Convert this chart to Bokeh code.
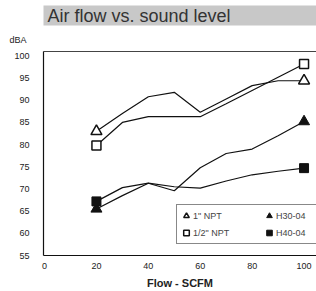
from bokeh.plotting import figure
from bokeh.models import Legend, LegendItem, Title, LinearAxis, FixedTicker, Range1d
from bokeh.embed import file_html
from bokeh.resources import INLINE

flow = [20, 30, 40, 50, 60, 70, 80, 90, 100]
npt_1 = [83.0, 87.0, 90.8, 91.8, 87.3, 90.3, 93.3, 94.4, 94.4]
npt_half = [79.8, 85.0, 86.3, 86.3, 86.3, 89.2, 92.2, 95.2, 98.2]
h30_04 = [65.5, 68.5, 71.3, 69.6, 74.8, 78.0, 79.0, 82.0, 85.2]
h40_04 = [67.2, 70.3, 71.3, 70.5, 70.2, 71.8, 73.2, 74.0, 74.7]
x_ticks = [0, 20, 40, 60, 80, 100]
y_ticks = [55, 60, 65, 70, 75, 80, 85, 90, 95, 100]

FONT = "Liberation Sans"
INK = "#111111"

p = figure(width=316, height=291, output_backend="svg", toolbar_location=None,
           x_range=Range1d(-0.4, 104.8), y_range=Range1d(55, 101),
           min_border_left=43, min_border_right=0, min_border_top=51, min_border_bottom=36)
p.outline_line_color = None
p.background_fill_color = "white"
p.border_fill_color = "white"
p.xgrid.visible = False
p.ygrid.visible = False

p.title.text = "Air flow vs. sound level"
p.title.text_font = FONT
p.title.text_font_size = "18px"
p.title.text_font_style = "normal"
p.title.text_color = "#333333"
p.title.background_fill_color = "#c8c8c8"
p.title.padding = dict(left=4, right=110, top=0, bottom=0)
p.title.standoff = 0

for ax in (p.xaxis[0], p.yaxis[0]):
    ax.axis_line_color = INK
    ax.axis_line_width = 1.2
    ax.major_tick_line_color = None
    ax.minor_tick_line_color = None
    ax.major_label_text_font = FONT
    ax.major_label_text_font_size = "9px"
    ax.major_label_text_color = "#222222"
p.xaxis[0].ticker = FixedTicker(ticks=x_ticks)
p.yaxis[0].ticker = FixedTicker(ticks=y_ticks)
p.xaxis[0].major_label_standoff = 1
p.yaxis[0].major_label_standoff = 8
p.xaxis[0].axis_label = "Flow - SCFM"
p.xaxis[0].axis_label_text_font = FONT
p.xaxis[0].axis_label_text_font_size = "11px"
p.xaxis[0].axis_label_text_font_style = "bold"
p.xaxis[0].axis_label_text_color = "#222222"
p.xaxis[0].axis_label_standoff = 5

top = LinearAxis(ticker=FixedTicker(ticks=[]), major_label_text_font_size="0px",
                 axis_line_color="#444444", axis_line_width=1.2,
                 major_tick_line_color=None, minor_tick_line_color=None)
p.add_layout(top, "above")

dba = Title(text="dBA", align="left", offset=-34, text_font=FONT, text_font_size="9px",
            text_font_style="normal", text_color="#222222", standoff=14)
p.add_layout(dba, "above")

lw = 1.2
p.line(flow, npt_1, line_color=INK, line_width=lw)
p.line(flow, npt_half, line_color=INK, line_width=lw)
p.line(flow, h30_04, line_color=INK, line_width=lw)
p.line(flow, h40_04, line_color=INK, line_width=lw)
r1 = p.scatter([flow[0], flow[-1]], [npt_1[0], npt_1[-1]], marker="triangle", size=11,
               fill_color="white", line_color=INK, line_width=1.5)
r2 = p.scatter([flow[0], flow[-1]], [npt_half[0], npt_half[-1]], marker="square", size=9,
               fill_color="white", line_color=INK, line_width=1.5)
r3 = p.scatter([flow[0], flow[-1]], [h30_04[0], h30_04[-1]], marker="triangle", size=11,
               fill_color=INK, line_color=INK)
r4 = p.scatter([flow[0], flow[-1]], [h40_04[0], h40_04[-1]], marker="square", size=9,
               fill_color=INK, line_color=INK)

legend = Legend(items=[LegendItem(label='1" NPT', renderers=[r1]),
                       LegendItem(label='1/2" NPT', renderers=[r2]),
                       LegendItem(label="H30-04", renderers=[r3]),
                       LegendItem(label="H40-04", renderers=[r4])],
                orientation="vertical", nrows=2, location=(133, 11),
                border_line_color=INK, border_line_width=1.2,
                label_text_font=FONT, label_text_font_size="9px",
                glyph_width=14, glyph_height=17, label_standoff=0, padding=2,
                spacing=0, margin=0, label_height=17, label_width=69,
                background_fill_color="white", background_fill_alpha=1)
p.add_layout(legend, "center")

open("out.html", "w").write(file_html(p, INLINE))
